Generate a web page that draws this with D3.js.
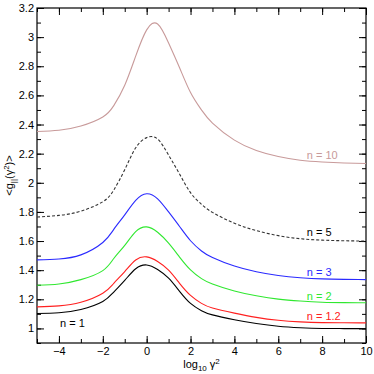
<!DOCTYPE html>
<html>
<head>
<meta charset="utf-8">
<script src="https://cdn.jsdelivr.net/npm/d3@7"></script>
<style>
  body { margin: 0; background: #fff; }
  text { font-family: "Liberation Sans", Arial, sans-serif; }
</style>
</head>
<body>
<div id="chart"></div>
<script>
var xVals = [-5, -4, -3, -2, -1.5, -1, -0.5, 0, 0.5, 1, 1.5, 2, 2.5, 3, 4, 5, 6, 7, 8, 9, 10];

// <g(gamma^2)> for each n
var n1   = [1.103, 1.108, 1.13, 1.185, 1.25, 1.33, 1.41, 1.436, 1.405, 1.345, 1.255, 1.172, 1.122, 1.093, 1.06, 1.034, 1.015, 1.005, 1.0, 0.999, 0.998];
var n1_2 = [1.148, 1.155, 1.18, 1.242, 1.31, 1.39, 1.47, 1.491, 1.46, 1.40, 1.31, 1.227, 1.172, 1.14, 1.105, 1.076, 1.056, 1.045, 1.04, 1.039, 1.038];
var n2   = [1.296, 1.305, 1.335, 1.397, 1.48, 1.57, 1.665, 1.697, 1.66, 1.585, 1.49, 1.402, 1.342, 1.305, 1.257, 1.224, 1.201, 1.188, 1.18, 1.177, 1.176];
var n3   = [1.471, 1.477, 1.505, 1.59, 1.68, 1.78, 1.88, 1.925, 1.89, 1.80, 1.70, 1.602, 1.532, 1.487, 1.428, 1.389, 1.363, 1.348, 1.34, 1.337, 1.335];
var n5   = [1.765, 1.776, 1.805, 1.87, 1.95, 2.09, 2.24, 2.31, 2.30, 2.19, 2.06, 1.932, 1.852, 1.797, 1.722, 1.672, 1.637, 1.616, 1.606, 1.602, 1.60];
var n10  = [2.352, 2.361, 2.39, 2.452, 2.53, 2.67, 2.87, 3.05, 3.09, 2.96, 2.79, 2.62, 2.50, 2.41, 2.293, 2.222, 2.18, 2.155, 2.143, 2.136, 2.132];

var seriesNames = ["n = 1", "n = 1.2", "n = 2", "n = 3", "n = 5", "n = 10"];
var seriesData = [n1, n1_2, n2, n3, n5, n10];
var colors = ["#000000", "#ff2020", "#30e830", "#2a2aff", "#333333", "#c89a9a"];

// where each label sits, in data units
var labelX = [-3.95, 7.3, 7.3, 7.3, 7.3, 7.3];
var labelY = [1.01, 1.058, 1.195, 1.36, 1.635, 2.16];

var xTicks = [-4, -2, 0, 2, 4, 6, 8, 10];
var yTicks = [1, 1.2, 1.4, 1.6, 1.8, 2, 2.2, 2.4, 2.6, 2.8, 3, 3.2];

var svgWidth = 374, svgHeight = 374;
var margin = { top: 8, right: 8, bottom: 31, left: 37 };
var width = svgWidth - margin.left - margin.right;
var height = svgHeight - margin.top - margin.bottom;

var svg = d3.select("#chart").append("svg")
  .attr("width", svgWidth)
  .attr("height", svgHeight);

var g = svg.append("g")
  .attr("transform", `translate(${margin.left},${margin.top})`);

var x = d3.scaleLinear().domain([-5, 10]).range([0, width]);
var y = d3.scaleLinear().domain([0.9, 3.2]).range([height, 0]);

var minorX = d3.range(-5, 10.01, 1);
var minorY = d3.range(0.9, 3.201, 0.1);

// axes: major ticks with labels, minor ticks without, mirrored on top/right
function styleAxis(sel) {
  sel.select(".domain").remove();
  sel.selectAll("line").attr("stroke", "#000");
  sel.selectAll("text").attr("font-size", 11).attr("fill", "#000");
}

g.append("g").attr("transform", `translate(0,${height})`)
  .call(d3.axisBottom(x).tickValues(minorX).tickSize(-4).tickFormat(""))
  .call(styleAxis);
g.append("g").attr("transform", `translate(0,${height})`)
  .call(d3.axisBottom(x).tickValues(xTicks).tickSize(-7).tickPadding(4).tickFormat(d3.format("d")))
  .call(styleAxis);
g.append("g")
  .call(d3.axisTop(x).tickValues(minorX).tickSize(-4).tickFormat(""))
  .call(styleAxis);
g.append("g")
  .call(d3.axisTop(x).tickValues(xTicks).tickSize(-7).tickFormat(""))
  .call(styleAxis);

g.append("g")
  .call(d3.axisLeft(y).tickValues(minorY).tickSize(-4).tickFormat(""))
  .call(styleAxis);
g.append("g")
  .call(d3.axisLeft(y).tickValues(yTicks).tickSize(-7).tickPadding(3).tickFormat(d3.format("~g")))
  .call(styleAxis);
g.append("g").attr("transform", `translate(${width},0)`)
  .call(d3.axisRight(y).tickValues(minorY).tickSize(-4).tickFormat(""))
  .call(styleAxis);
g.append("g").attr("transform", `translate(${width},0)`)
  .call(d3.axisRight(y).tickValues(yTicks).tickSize(-7).tickFormat(""))
  .call(styleAxis);

// frame
g.append("rect")
  .attr("width", width).attr("height", height)
  .attr("fill", "none").attr("stroke", "#000").attr("stroke-width", 1.2);

// curves
var line = d3.line()
  .x((d, i) => x(xVals[i]))
  .y(d => y(d))
  .curve(d3.curveNatural);

seriesData.forEach(function(vals, k) {
  g.append("path")
    .datum(vals)
    .attr("d", line)
    .attr("fill", "none")
    .attr("stroke", colors[k])
    .attr("stroke-width", 1.1)
    .attr("stroke-dasharray", k == 4 ? "3,2" : null);

  g.append("text")
    .attr("x", x(labelX[k]))
    .attr("y", y(labelY[k]))
    .attr("font-size", 11)
    .attr("fill", k == 4 ? "#000" : colors[k])
    .text(seriesNames[k]);
});

// axis titles
var xt = svg.append("text")
  .attr("x", margin.left + width / 2)
  .attr("y", 368)
  .attr("text-anchor", "middle")
  .attr("font-size", 11);
xt.append("tspan").text("log");
xt.append("tspan").attr("font-size", 8).attr("dy", 3).text("10");
xt.append("tspan").attr("dy", -3).text(" \u03B3");
xt.append("tspan").attr("font-size", 8).attr("dy", -4).text("2");

var yt = svg.append("text")
  .attr("transform", `translate(13,${margin.top + height / 2}) rotate(-90)`)
  .attr("text-anchor", "middle")
  .attr("font-size", 11);
yt.append("tspan").text("<g");
yt.append("tspan").attr("font-size", 8).attr("dy", 3).text("||");
yt.append("tspan").attr("dy", -3).text("(\u03B3");
yt.append("tspan").attr("font-size", 8).attr("dy", -4).text("2");
yt.append("tspan").attr("dy", 4).text(")>");
</script>
</body>
</html>
